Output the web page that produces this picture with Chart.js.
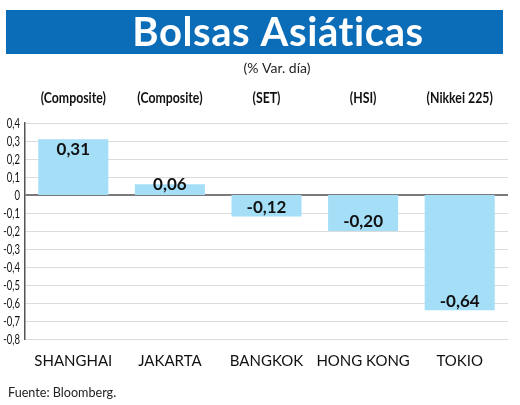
<!DOCTYPE html>
<html>
<head>
<meta charset="utf-8">
<script src="https://cdn.jsdelivr.net/npm/chart.js@4/dist/chart.umd.min.js"></script>
<style>
  html, body { margin: 0; padding: 0; background: #fff; }
  #wrap { position: relative; width: 520px; height: 405px; }
</style>
</head>
<body>
<div id="wrap"><canvas id="chartContainer" width="520" height="405"></canvas></div>
<script>
// datos del gráfico
var mercados = ['SHANGHAI', 'JAKARTA', 'BANGKOK', 'HONG KONG', 'TOKIO'];
var indices = ['(Composite)', '(Composite)', '(SET)', '(HSI)', '(Nikkei 225)'];
var variacion = [0.31, 0.06, -0.12, -0.20, -0.64];
var ejeMin = -0.8;
var ejeMax = 0.4;

function coma(v, dec) {
    return v.toFixed(dec).replace('.', ',');
}

// texto estrecho (la fuente original es condensada)
function textoEstrecho(ctx, txt, x, y, escala) {
    ctx.save();
    ctx.translate(x, y);
    ctx.scale(escala, 1);
    ctx.fillText(txt, 0, 0);
    ctx.restore();
}

// banda azul del titulo, subtitulo y fuente
var cabecera = {
    id: 'cabecera',
    beforeDraw: function(chart) {
        var ctx = chart.ctx;
        ctx.save();
        ctx.fillStyle = '#0b6cb8';
        ctx.fillRect(6, 10, 497, 44);
        ctx.fillStyle = '#fff';
        ctx.textAlign = 'center';
        ctx.textBaseline = 'alphabetic';
        ctx.font = 'bold 40px Lato, sans-serif';
        ctx.letterSpacing = '0.6px'; // evita la ligadura "ti"
        ctx.fillText('Bolsas Asiáticas', 278, 46);
        ctx.letterSpacing = '0px';
        ctx.fillStyle = '#222';
        ctx.textBaseline = 'middle';
        ctx.font = '14px Lato, sans-serif';
        ctx.fillText('(% Var. día)', 277, 68);
        ctx.textAlign = 'left';
        textoEstrecho(ctx, 'Fuente: Bloomberg.', 8, 392, 0.9);
        ctx.restore();
    }
};

// indices arriba, ticks del eje y, y valores en las barras
var textos = {
    id: 'textos',
    afterDraw: function(chart) {
        var ctx = chart.ctx;
        var xs = chart.scales.x;
        var ys = chart.scales.y;
        ctx.save();
        ctx.fillStyle = '#111';
        ctx.textAlign = 'center';
        ctx.textBaseline = 'middle';
        ctx.font = 'bold 15px Lato, sans-serif';
        indices.forEach(function(t, i) {
            textoEstrecho(ctx, t, xs.getPixelForValue(i), 98, 0.82);
        });
        ctx.textAlign = 'right';
        ctx.font = '14px Lato, sans-serif';
        ys.ticks.forEach(function(tk) {
            var r = Math.round(tk.value * 10) / 10;
            var s = r === 0 ? '0' : coma(r, 1);
            textoEstrecho(ctx, s, 20, ys.getPixelForValue(tk.value), 0.68);
        });
        ctx.restore();
    },
    afterDatasetsDraw: function(chart) {
        var ctx = chart.ctx;
        var meta = chart.getDatasetMeta(0);
        ctx.save();
        ctx.fillStyle = '#111';
        ctx.font = 'bold 17px Lato, sans-serif';
        ctx.textAlign = 'center';
        ctx.textBaseline = 'middle';
        meta.data.forEach(function(bar, i) {
            var v = variacion[i];
            var alto = Math.abs(bar.base - bar.y);
            var y = bar.y;
            if (alto > 20) y = v >= 0 ? bar.y + 10 : bar.y - 9;
            ctx.fillText(coma(v, 2), bar.x, y);
        });
        ctx.restore();
    }
};

var ctx = document.getElementById('chartContainer').getContext('2d');
var myChart = new Chart(ctx, {
    type: 'bar',
    data: {
        labels: mercados,
        datasets: [{
            label: '% Var. día',
            data: variacion,
            backgroundColor: '#a4def7',
            borderWidth: 0,
            barPercentage: 1,
            categoryPercentage: 0.725
        }]
    },
    options: {
        responsive: false,
        animation: false,
        layout: { padding: { left: 0, right: 12, top: 123, bottom: 30 } },
        plugins: { legend: { display: false }, tooltip: { enabled: false } },
        scales: {
            x: {
                position: 'bottom',
                grid: { display: false },
                border: { display: false },
                ticks: {
                    color: '#111',
                    font: { family: 'Lato, sans-serif', size: 15 },
                    padding: 5,
                    maxRotation: 0,
                    minRotation: 0,
                    autoSkip: false
                },
                afterFit: function(s) { s.height = 36; s.paddingLeft = 0; s.paddingRight = 0; }
            },
            y: {
                min: ejeMin,
                max: ejeMax,
                ticks: { stepSize: 0.1, display: false },
                grid: {
                    drawTicks: false,
                    color: function(c) { return c.tick && Math.abs(c.tick.value) < 1e-9 ? '#7a7a7a' : '#dcdcdc'; },
                    lineWidth: function(c) { return c.tick && Math.abs(c.tick.value) < 1e-9 ? 2 : 1; }
                },
                border: { display: true, color: '#555', width: 1.5 },
                afterFit: function(s) { s.width = 25; }
            }
        }
    },
    plugins: [cabecera, textos]
});
</script>
</body>
</html>
